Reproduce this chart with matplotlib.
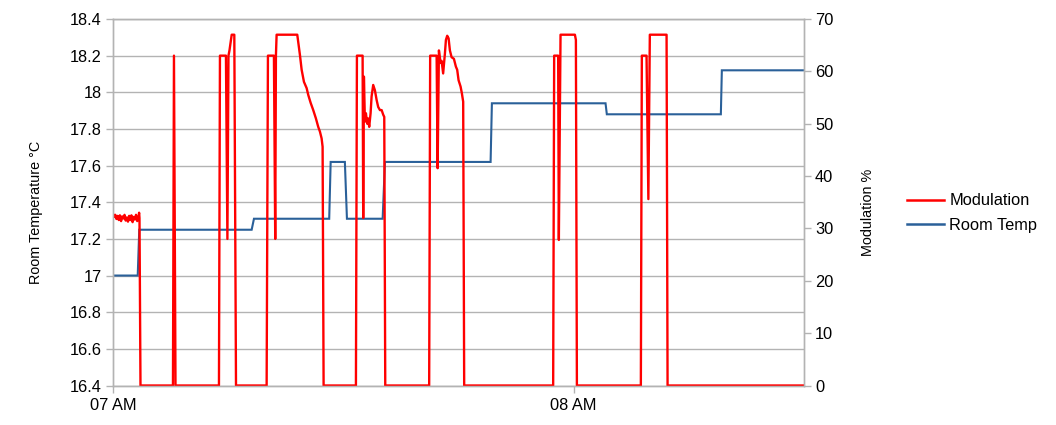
import matplotlib
matplotlib.use("Agg")
import matplotlib.pyplot as plt
from matplotlib.lines import Line2D

plt.rcParams['font.family'] = ['Liberation Sans', 'DejaVu Sans']

# Time in minutes after 07:00
mod_time = [0.0, 0.15, 0.3, 0.45, 0.6, 0.75, 0.9, 1.05, 1.2, 1.35, 1.5, 1.65, 1.8, 1.95,
            2.1, 2.25, 2.4, 2.55, 2.7, 2.85, 3.0, 3.15, 3.3, 3.4,
            3.45, 3.58,
            7.81, 7.94, 8.14,
            13.8, 13.93, 14.71, 14.9, 15.04, 15.17, 15.46, 15.8, 16.02,
            20.01, 20.18, 20.96, 21.13, 21.22, 21.31, 24.0, 24.35, 24.57, 24.87, 25.22,
            25.43, 25.74, 26.08, 26.43, 26.73, 26.95, 27.17, 27.3, 27.43,
            31.64, 31.77, 32.51, 32.59, 32.68, 32.81, 32.94, 33.11, 33.24, 33.37, 33.55,
            33.68, 33.89, 34.11, 34.34, 34.54, 34.77, 34.99, 35.2, 35.33, 35.46,
            41.18, 41.31, 42.15, 42.28, 42.45, 42.67, 42.8, 43.0, 43.23, 43.36, 43.53,
            43.71, 43.88, 44.1, 44.4, 44.66, 44.83, 45.01, 45.27, 45.44, 45.61, 45.74,
            57.33, 57.46, 57.98, 58.07, 58.29, 60.16, 60.29, 60.42,
            68.75, 68.88, 69.49, 69.73, 69.92, 72.1, 72.23, 90.0]
modulation = [32.8, 32.2, 32.6, 31.8, 32.4, 31.6, 32.5, 31.4, 32.3, 31.9, 32.6, 31.5, 32.1, 31.3,
              32.4, 31.6, 32.5, 31.2, 32.2, 31.7, 32.6, 31.4, 32.0, 33.0,
              32.0, 0,
              0, 63, 0,
              0, 63, 63, 28, 63, 64, 67, 67, 0,
              0, 63, 63, 28, 63, 67, 67, 63.1, 60.3, 58, 56.8,
              55.5, 54, 52.6, 51, 49.4, 48.5, 47.2, 45.6, 0,
              0, 63, 63, 32, 59, 50.4, 52, 50, 51, 49.4, 52,
              55.2, 57.4, 56.4, 54.5, 53.2, 52.6, 52.6, 51.7, 51.3, 0,
              0, 63, 63, 41.5, 64, 61.6, 62, 59.6, 63.4, 66, 66.8,
              66.3, 64, 62.7, 62.4, 60.9, 60.3, 58.3, 57.1, 55.8, 54.2, 0,
              0, 63, 63, 27.8, 67, 67, 66, 0,
              0, 63, 63, 35.6, 67, 67, 0, 0]

temp_time = [0.0, 3.22, 3.42, 18.06, 18.36, 28.16, 28.35, 30.2, 30.47, 35.12, 35.42,
             49.18, 49.35, 64.15, 64.32, 79.17, 79.3, 90.0]
room_temp = [17.0, 17.0, 17.25, 17.25, 17.31, 17.31, 17.62, 17.62, 17.31, 17.31, 17.62,
             17.62, 17.94, 17.94, 17.88, 17.88, 18.12, 18.12]

temp_ticks = [16.4, 16.6, 16.8, 17.0, 17.2, 17.4, 17.6, 17.8, 18.0, 18.2, 18.4]
mod_ticks = [0, 10, 20, 30, 40, 50, 60, 70]
x_ticks = [0, 60]
x_labels = ['07 AM', '08 AM']

GRAY = '#b3b3b3'
RED = '#ff0000'
BLUE = '#2a6099'

fig = plt.figure(figsize=(10.56, 4.25), dpi=100)
ax = fig.add_axes([113/1056, 1 - 385.5/425, (804-113)/1056, (385.5-19)/425])
ax2 = ax.twinx()

ax.plot(temp_time, room_temp, color=BLUE, lw=1.5, solid_joinstyle='miter')
ax2.plot(mod_time, modulation, color=RED, lw=1.7)

ax.set_xlim(0, 90)
ax.set_ylim(16.4, 18.4)
ax2.set_ylim(0, 70)
ax.set_yticks(temp_ticks)
ax.set_yticklabels([f"{v:g}" for v in temp_ticks])
ax2.set_yticks(mod_ticks)
ax2.set_yticklabels([str(v) for v in mod_ticks])
ax.set_xticks(x_ticks)
ax.set_xticklabels(x_labels)

ax.grid(axis='y', color=GRAY, lw=1.0)
ax.set_axisbelow(True)
for a in (ax, ax2):
    for s in a.spines.values():
        s.set_color(GRAY)
        s.set_linewidth(1.0)
    a.tick_params(colors=GRAY, labelcolor='black', labelsize=11.8, length=5, width=1.0)
ax.tick_params(axis='y', pad=3)
ax2.tick_params(axis='y', pad=3)
ax.tick_params(axis='x', pad=4)

fig.text(36/1056, 1 - 212/425, 'Room Temperature °C', rotation=90, ha='center', va='center',
         fontsize=10.4)
fig.text(868/1056, 1 - 212/425, 'Modulation %', rotation=90, ha='center', va='center',
         fontsize=10.4)

handles = [Line2D([], [], color=RED, lw=1.8), Line2D([], [], color=BLUE, lw=1.8)]
leg = fig.legend(handles, ['Modulation', 'Room Temp'], loc='center left',
                 bbox_to_anchor=(892/1056, 1 - 213/425), frameon=False, fontsize=11.8,
                 handlelength=2.3, handletextpad=0.3, labelspacing=0.55)

fig.savefig('out.png', dpi=100)
